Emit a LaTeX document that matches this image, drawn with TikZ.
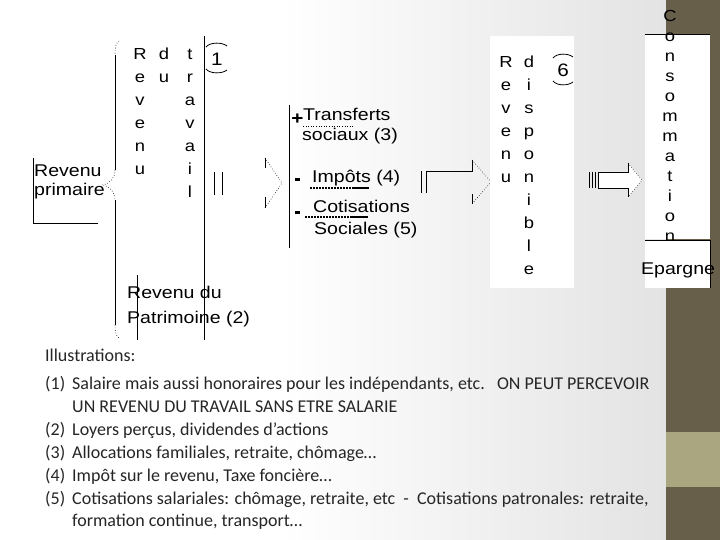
\documentclass[tikz,border=0pt]{standalone}
\usepackage{fontspec}
\setmainfont{Carlito}
\newfontfamily\diagfont[FakeStretch=1.15]{Liberation Sans}
\usetikzlibrary{positioning}
\definecolor{barbrown}{RGB}{103,95,74}
\definecolor{bartan}{RGB}{169,166,128}

\begin{document}
\begin{tikzpicture}[x=1pt,y=-1pt]
\tikzset{
  plaintext/.style={font=\diagfont\fontsize{17}{20}\selectfont,inner sep=0pt,anchor=base west},
  vword/.style={font=\diagfont\fontsize{16}{23}\selectfont,align=center,inner sep=0pt,anchor=north},
  numlabel/.style={font=\diagfont\fontsize{18}{20}\selectfont,inner sep=0pt},
  thinline/.style={draw=black,line width=0.8pt},
  dotline/.style={draw=black,line width=0.6pt,dotted},
  heavydots/.style={draw=black,line width=1.5pt,dash pattern=on 1.5pt off 1.5pt},
  notes/.style={font=\fontsize{18}{23}\selectfont,text=black!85,inner sep=0pt,anchor=base west}
}
% slide background
\useasboundingbox (0,0) rectangle (720,540);
\fill[white] (0,0) rectangle (280,540);
\shade[left color=white,right color=black!11] (280,0) rectangle (666,540);
\fill[barbrown] (666,0) rectangle (720,540);
\fill[bartan] (666,432) rectangle (720,487);
% revenu primaire
\draw[thinline] (33,158) -- (33,223) -- (98,223);
\node[plaintext] (n_rev) at (34,177) {Revenu};
\node[plaintext] (n_prim) at (34,196) {primaire};
\draw[dotline] (119,41) .. controls (116,43) and (115,47) .. (115,55);
\draw[thinline] (115,55) -- (115,170);
\draw[dotline] (115,170) .. controls (115,178) and (110,184) .. (102,185) .. controls (110,186) and (115,192) .. (115,200);
\draw[thinline] (115,200) -- (115,325);
\draw[dotline] (115,325) .. controls (115,332) and (116,336) .. (119,338);
% revenu du travail
\node[vword] (n_tr1) at (140,43.6) {\strut R\\e\\v\\e\\n\\u};
\node[vword] (n_tr2) at (164,43.6) {\strut d\\u};
\node[vword] (n_tr3) at (190,43.6) {\strut t\\r\\a\\v\\a\\i\\l};
\draw[thinline] (204,36) -- (204,340);
\draw[thinline] (206,47) .. controls (210,42) and (222,42) .. (227,46);
\draw[thinline] (206,69) .. controls (210,74) and (222,74) .. (227,70);
\node[numlabel] (n_one) at (217,59) {1};
% revenu du patrimoine
\draw[thinline] (137,275) -- (137,340);
\node[plaintext] (n_pat1) at (127,298) {Revenu du};
\node[plaintext] (n_pat2) at (127,323) {Patrimoine (2)};
% first arrow
\draw[thinline] (214,172) -- (214,195);
\draw[thinline] (222,172) -- (222,195);
\draw[thinline] (265,158) -- (265,168);
\draw[thinline] (265,197) -- (265,208);
\draw[dotline] (265,158) -- (282,183) -- (265,208);
% redistribution
\draw[thinline] (289,105) -- (289,248);
\node[font=\diagfont\bfseries\fontsize{18}{20}\selectfont,inner sep=0pt] (n_plus) at (297.5,119.5) {+};
\node[plaintext] (n_transf) at (303,121) {Transferts};
\node[plaintext] (n_soc) at (302,141) {sociaux (3)};
\draw[dotline] (303,126) -- (353,126);
\fill (294.5,178.5) rectangle (300,181.5);
\node[plaintext] (n_imp) at (312,183) {Impôts (4)};
\draw[heavydots] (310,188) -- (352,188);
\draw[line width=1.5pt] (352,188) -- (369,188);
\fill (294.5,211.5) rectangle (300,214.5);
\node[plaintext] (n_cot) at (313,213) {Cotisations};
\draw[heavydots] (305,217) -- (352,217);
\draw[line width=1.5pt] (352,217) -- (368,217);
\node[plaintext] (n_soc2) at (314,234) {Sociales (5)};
% second arrow
\draw[thinline] (421,171) -- (421,193);
\draw[thinline] (426,171) -- (426,193);
\draw[thinline] (426,171) -- (472,171) -- (472,160);
\draw[thinline] (472,194) -- (472,204);
\draw[dotline] (472,160) -- (491,182) -- (472,204);
% revenu disponible
\fill[white] (490,36) rectangle (574,288);
\node[vword] (n_disp1) at (506,51.6) {\strut R\\e\\v\\e\\n\\u};
\node[vword] (n_disp2) at (529,51.6) {\strut d\\i\\s\\p\\o\\n\\i\\b\\l\\e};
\draw[thinline] (553,58) .. controls (557,53) and (568,53) .. (573,57);
\draw[thinline] (553,81) .. controls (557,86) and (568,86) .. (573,82);
\node[numlabel] (n_six) at (563,70) {6};
% third arrow
\fill[white] (598,172) -- (628,172) -- (628,163) -- (642,180) -- (628,197) -- (628,188) -- (598,188) -- cycle;
\draw[thinline] (589,172) -- (589,188);
\draw[thinline] (592,172) -- (592,188);
\draw[thinline] (595,172) -- (595,188);
\draw[thinline] (598,172) -- (598,188);
\draw[thinline] (628,163) -- (628,172) -- (598,172);
\draw[thinline] (628,197) -- (628,188) -- (598,188);
\draw[dotline] (628,163) -- (642,180) -- (628,197);
% consommation / epargne
\fill[white] (645,34) rectangle (710,239);
\draw[thinline] (645,34) -- (710,34);
\node[vword,font=\diagfont\fontsize{16}{20}\selectfont] (n_cons) at (670,7.7) {\strut C\\o\\n\\s\\o\\m\\m\\a\\t\\i\\o\\n};
\fill[white] (645,240) rectangle (710,288);
\draw[thinline] (645,240) -- (710,240);
\draw[thinline] (710,240) -- (710,288);
\node[plaintext] (n_ep) at (641,274) {Epargne};
% illustrations
\node[notes] (n_ill) at (45,361) {Illustrations:};
\node[notes] (n_k1) at (45,389) {(1)};
\node[notes] (n_t1) at (72,389) {Salaire mais aussi honoraires pour les indépendants, etc.\ \ \ ON PEUT PERCEVOIR};
\node[notes] (n_t1b) at (72,412) {UN REVENU DU TRAVAIL SANS ETRE SALARIE};
\node[notes] (n_k2) at (45,435) {(2)};
\node[notes] (n_t2) at (72,435) {Loyers perçus, dividendes d’actions};
\node[notes] (n_k3) at (45,458) {(3)};
\node[notes] (n_t3) at (72,458) {Allocations familiales, retraite, chômage…};
\node[notes] (n_k4) at (45,481) {(4)};
\node[notes] (n_t4) at (72,481) {Impôt sur le revenu, Taxe foncière…};
\node[notes] (n_k5) at (45,504) {(5)};
\node[notes] (n_t5) at (72,504) {Cotisations salariales: chômage, retraite, etc\ \ -\ \ Cotisations patronales: retraite,};
\node[notes] (n_t5b) at (72,526) {formation continue, transport…};
\end{tikzpicture}
\end{document}
